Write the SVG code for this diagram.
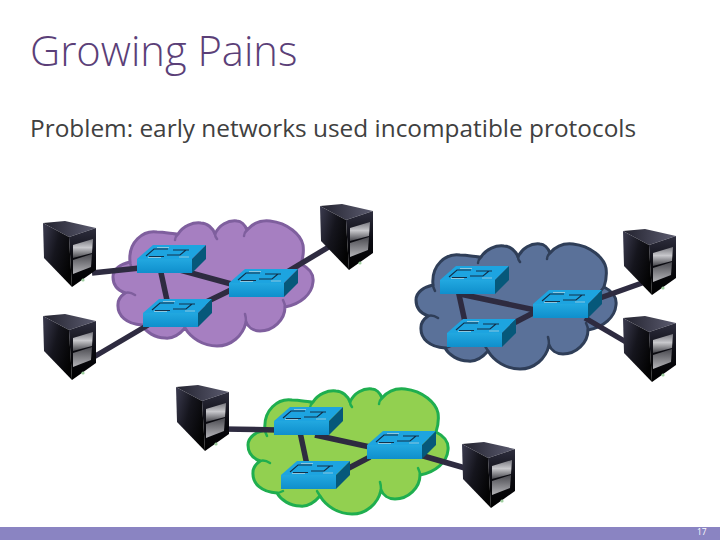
<svg xmlns="http://www.w3.org/2000/svg" width="720" height="540" viewBox="0 0 720 540">
<style>
text{font-family:"Open Sans","Liberation Sans",sans-serif}
.title{font-size:41.700px;font-weight:300;fill:#5b3f78}
.body{font-size:24.400px;fill:#404040}
.num{font-size:8.500px;fill:#fff}
.link{stroke:#2e2b40;stroke-width:5.500;fill:none;stroke-linecap:butt}
.cl{stroke-width:3;stroke-linejoin:round}
.tail{fill:none;stroke-width:2.500;stroke-linecap:round}
.purple{fill:#a67fc1;stroke:#7f5f9e}
.blue{fill:#5a7199;stroke:#2f3e58}
.green{fill:#92d050;stroke:#1fae4f}
</style>
<defs>
<linearGradient id="sLeft" x1="0" y1="0" x2="1" y2="0.6"><stop offset="0" stop-color="#3c3c50"/><stop offset="0.5" stop-color="#15151d"/><stop offset="1" stop-color="#030303"/></linearGradient>
<linearGradient id="sTop" x1="0" y1="0" x2="1" y2="0"><stop offset="0" stop-color="#22222e"/><stop offset="1" stop-color="#5c5c70"/></linearGradient>
<linearGradient id="sFront" x1="0" y1="0" x2="0" y2="1"><stop offset="0" stop-color="#2e2e3e"/><stop offset="0.5" stop-color="#0a0a10"/><stop offset="1" stop-color="#000"/></linearGradient>
<linearGradient id="sBay" x1="0" y1="0" x2="0" y2="1"><stop offset="0" stop-color="#77777e"/><stop offset="0.45" stop-color="#c8c8cc"/><stop offset="1" stop-color="#44444a"/></linearGradient>
<linearGradient id="sBay2" x1="0" y1="0" x2="0" y2="1"><stop offset="0" stop-color="#4a4a50"/><stop offset="1" stop-color="#b4b4b8"/></linearGradient>
<linearGradient id="swFront" x1="0" y1="0" x2="0" y2="1"><stop offset="0" stop-color="#22a8e0"/><stop offset="1" stop-color="#0f8fcc"/></linearGradient>
<g id="server">
<path d="M1 3L23 1L54 8L27 17Z" fill="url(#sTop)"/>
<path d="M1 3L27 17L30 67L2 38Z" fill="url(#sLeft)"/>
<path d="M27 17L54 8L54 50L30 67Z" fill="url(#sFront)"/>
<path d="M31 25L51 19L50 33L31 38Z" fill="url(#sBay)"/>
<path d="M31 40L50 34L49 47L31 54Z" fill="url(#sBay2)"/>
<circle cx="41" cy="60" r="1.600" fill="#9fd0a0"/>
</g>
<g id="switch">
<path d="M0 14L16 0L69 0L55 14Z" fill="#1da4e0"/>
<path d="M0 14H55V28H0Z" fill="url(#swFront)"/>
<path d="M55 14L69 0V14L55 28Z" fill="#06587a"/>
<path d="M9 11L17 4H31M36 5H52M12 11.500H27M30 10H43L49 5" fill="none" stroke="#12304a" stroke-width="1.100"/>
<path d="M11 12.500H24M20 2.500H32M42 12H52" fill="none" stroke="#8cc8e0" stroke-width="1"/>
</g>
<g id="cloudShape">
<path class="cl" d="M17 42C15 22 30 10 44 12C52 12 60 14 65 14C70 6 80 2 88 3C94 3 100 8 102 14C106 5 115 0 124 1C128 1 132 5 134 10C140 3 148 0 157 1C175 3 188 15 190 25C191 32 190 38 188 44C196 48 201 54 200 62C199 74 188 84 172 87C172 100 160 111 147 111C140 111 135 107 133 102C130 116 118 126 104 126C90 126 78 118 72 108C66 115 60 119 52 118C42 118 33 112 29 105C14 104 4 96 5 84C5 80 8 76 12 73C4 70 0 64 0 57C0 49 8 44 17 42Z"/>
<path class="tail" d="M12 73C15 72 19 73 22 75M17 42C17 44 18 46 19 48M65 14C63 16 62 18 62 20M102 14C102 16 103 18 104 19M134 10C132 12 131 14 131 16M188 44C186 47 184 49 182 50M172 87C172 84 171 82 170 80M133 102C133 99 133 97 132 94M72 108C71 106 70 105 69 103M29 105C31 105 33 104 35 103"/>
</g>
</defs>
<rect width="720" height="540" fill="#fff"/>
<text class="title" x="30" y="66">Growing Pains</text>
<text class="body" x="30" y="137">Problem: early networks used incompatible protocols</text>
<g id="cloud-purple" class="purple"><use href="#cloudShape" x="113" y="220"/></g>
<g id="cloud-blue" class="blue"><use href="#cloudShape" x="416" y="243"/></g>
<g id="cloud-green" class="green"><use href="#cloudShape" x="248" y="388"/></g>
<g id="connectors">
<path class="link" d="M92 273L140 268"/>
<path class="link" d="M160 268L168 305"/>
<path class="link" d="M180 270L235 285"/>
<path class="link" d="M200 305L235 288"/>
<path class="link" d="M148 325L92 358"/>
<path class="link" d="M272 281L332 245"/>
<path class="link" d="M458 290L465 322"/>
<path class="link" d="M460 294L535 310"/>
<path class="link" d="M510 325L535 312"/>
<path class="link" d="M600 298L642 283"/>
<path class="link" d="M585 318L626 342"/>
<path class="link" d="M222 429L278 430"/>
<path class="link" d="M300 432L307 465"/>
<path class="link" d="M315 435L370 447"/>
<path class="link" d="M345 470L370 457"/>
<path class="link" d="M420 455L465 468"/>
</g>
<g id="sw-p1"><use href="#switch" x="137" y="245"/></g>
<g id="sw-p2"><use href="#switch" x="229" y="269"/></g>
<g id="sw-p3"><use href="#switch" x="143" y="299"/></g>
<g id="sw-b1"><use href="#switch" x="440" y="266"/></g>
<g id="sw-b2"><use href="#switch" x="533" y="290"/></g>
<g id="sw-b3"><use href="#switch" x="447" y="319"/></g>
<g id="sw-g1"><use href="#switch" x="274" y="407"/></g>
<g id="sw-g2"><use href="#switch" x="367" y="431"/></g>
<g id="sw-g3"><use href="#switch" x="281" y="461"/></g>
<g id="srv-1"><use href="#server" x="42" y="220"/></g>
<g id="srv-2"><use href="#server" x="42" y="313"/></g>
<g id="srv-3"><use href="#server" x="319" y="203"/></g>
<g id="srv-4"><use href="#server" x="622" y="228"/></g>
<g id="srv-5"><use href="#server" x="622" y="315"/></g>
<g id="srv-6"><use href="#server" x="175" y="384"/></g>
<g id="srv-7"><use href="#server" x="461" y="441"/></g>
<rect x="0" y="527" width="720" height="13" fill="#8a84c2"/>
<text class="num" x="697" y="535">17</text>
</svg>
